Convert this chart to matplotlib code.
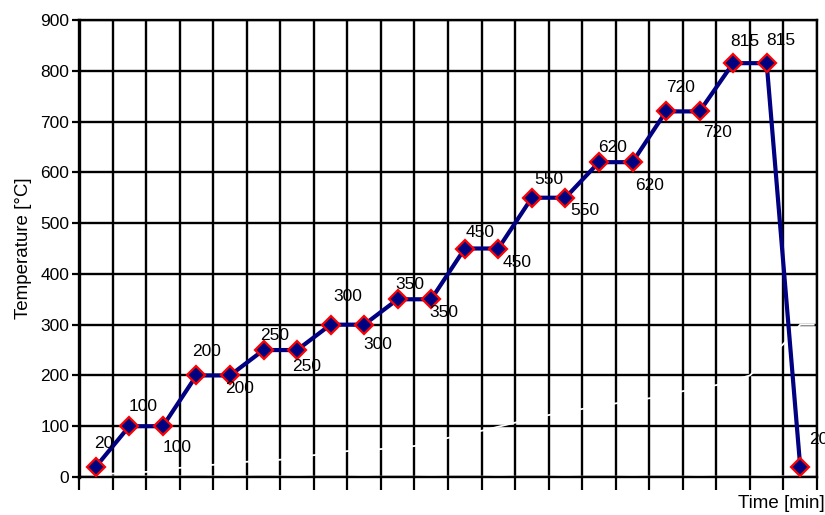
import matplotlib
matplotlib.use("Agg")
import matplotlib.pyplot as plt
import numpy as np

plt.rcParams['font.family'] = ['Liberation Sans', 'DejaVu Sans']

# Heating programme: temperature held / ramped step by step, then cooled
step_pos = [0.5 + i for i in range(22)]
temperature = [20, 100, 100, 200, 200, 250, 250, 300, 300, 350, 350,
               450, 450, 550, 550, 620, 620, 720, 720, 815, 815, 20]
temp_labels = [str(v) for v in temperature]

# Faint white auxiliary curves (hidden series)
aux_x = [0.5, 2, 3, 4, 5, 6, 7, 8, 9, 10, 11, 12, 13, 14, 15, 16, 17,
         18, 19, 20, 21, 21.5, 21.9]
aux_rise = [5, 10, 18, 24, 30, 34, 43, 51, 55, 61, 77, 91, 107, 122, 134,
            145, 155, 169, 181, 200, 262, 300, 300]
aux_base_x = [0.5, 1.5, 2.5, 3.5, 4.5, 5.5, 6.5, 7.5, 8.5, 9.5, 10.5, 11.5,
              12.5, 13.5, 14.5, 15.5, 16.5, 17.5, 18.5, 19.5, 20.5, 21.5]
aux_base = [3, 0, 3, 0, 3, 0, 3, -1, 3, -1, 3, -1, 3, -1, 3, -1, 3, -1,
            3, -1, 3, 0]

# label offsets (pixels) relative to each marker
label_dx = [-2, -1, 0, -4, -5, -3, -5, 3, -1, -2, -2, 1, 4, 2, 5, -1, 3,
            0, 4, -3, 0, 9]
label_dy = [-23, -20, 21, -24, 13, -15, 16, -28, 20, -15, 13, -16, 14,
            -18, 13, -15, 23, -24, 21, -22, -23, -27]

W, H, DPI = 825, 515, 100
fig = plt.figure(figsize=(W / DPI, H / DPI), dpi=DPI)
ax = fig.add_axes([79 / W, 38 / H, (817 - 79) / W, (477 - 20) / H])

ax.set_xlim(0, 22)
ax.set_ylim(0, 900)
ax.set_xticks(np.arange(0, 23, 1))
ax.set_xticklabels([])
ax.set_yticks(np.arange(0, 901, 100))
ax.tick_params(axis='x', direction='out', length=9, width=1.6, color='black')
ax.tick_params(axis='y', direction='out', length=5, width=1.6, color='black',
               labelsize=12.5, pad=2)

ax.grid(True, color='black', linewidth=1.7)
ax.set_axisbelow(True)
for side in ['top', 'right', 'bottom']:
    ax.spines[side].set_linewidth(1.7)
ax.spines['left'].set_linewidth(2.4)

ax.plot(aux_x, aux_rise, color='white', linewidth=1.3, zorder=2.5)
ax.plot(aux_base_x, aux_base, color='white', linewidth=1.0, zorder=2.5)

ax.plot(step_pos, temperature, color='#000080', linewidth=3.0,
        marker='D', markersize=9.5, markerfacecolor='#000080',
        markeredgecolor='red', markeredgewidth=1.6, zorder=4,
        clip_on=False)

for x, y, t, dx, dy in zip(step_pos, temperature, temp_labels,
                           label_dx, label_dy):
    ax.annotate(t, (x, y), xytext=(dx * 72 / DPI, -dy * 72 / DPI),
                textcoords='offset points', ha='left', va='center',
                fontsize=12.5, color='black', zorder=5, annotation_clip=False)

ax.set_ylabel('Temperature [°C]', fontsize=13.5, labelpad=6)
fig.text(825 / W, 1 - 503 / H, 'Time [min]', ha='right', va='center',
         fontsize=13.5)

fig.savefig('out.png', dpi=DPI)
